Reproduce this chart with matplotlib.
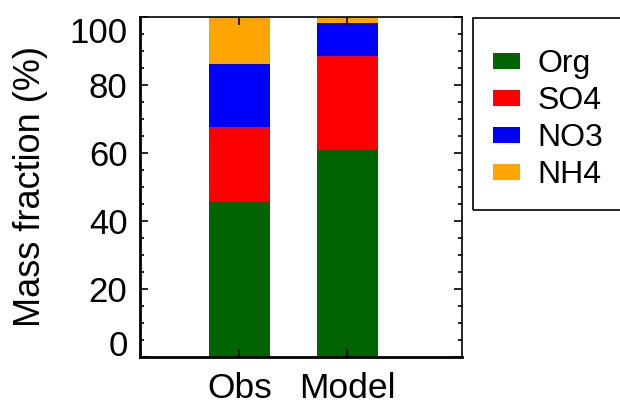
import matplotlib
matplotlib.use("Agg")
import matplotlib.pyplot as plt
from matplotlib.patches import Rectangle
from matplotlib.ticker import MultipleLocator

plt.rcParams["font.family"] = ["Liberation Sans", "DejaVu Sans"]

groups = ["Obs", "Model"]
species = ["Org", "SO4", "NO3", "NH4"]
colors = ["#006400", "#ff0000", "#0000ff", "#ffa500"]
obs_frac = [45.6, 22.0, 18.5, 13.9]
model_frac = [60.8, 27.9, 9.7, 1.6]
yticks = [0, 20, 40, 60, 80, 100]

W, H = 620, 407
fig = plt.figure(figsize=(W / 100, H / 100), dpi=100)
ax = fig.add_axes([140 / W, 1 - 356.5 / H, 322 / W, 339.2 / H])

x = [1, 2]
bottom = [0.0, 0.0]
for i, name in enumerate(species):
    vals = [obs_frac[i], model_frac[i]]
    ax.bar(x, vals, width=0.57, bottom=bottom, color=colors[i],
           edgecolor="none", label=name)
    bottom = [b + v for b, v in zip(bottom, vals)]

ax.set_xlim(0.08, 3.062)
ax.set_ylim(0, 100)
ax.set_xticks(x)
ax.set_xticklabels(groups)
ax.set_yticks(yticks)
ax.yaxis.set_minor_locator(MultipleLocator(5))
ax.tick_params(axis="both", which="both", direction="in", top=True, right=True,
               width=1.2)
ax.tick_params(axis="both", which="major", length=6)
ax.tick_params(axis="y", which="major", labelsize=25, pad=9)
ax.tick_params(axis="x", which="major", labelsize=25.5, pad=11)
ax.tick_params(axis="y", which="minor", length=3)
ax.tick_params(axis="x", which="minor", length=0)
for s in ["left", "bottom"]:
    ax.spines[s].set_linewidth(2)
for s in ["top", "right"]:
    ax.spines[s].set_linewidth(1.2)

# end labels sit inside the axis range, like the original
yt = ax.yaxis.get_major_ticks()
yt[0].label1.set_va("baseline")
yt[-1].label1.set_va("top")

ax.set_ylabel("Mass fraction (%)", fontsize=26)
ax.yaxis.set_label_coords(-0.285, 0.5)

leg = fig.legend(loc="upper left", bbox_to_anchor=(493 / W, 1 - 49 / H),
                 frameon=False, fontsize=23, handlelength=0.85,
                 handleheight=0.4, handletextpad=0.55, labelspacing=0.22,
                 borderpad=0, borderaxespad=0)
fig.add_artist(Rectangle((472.5 / W, 1 - 210 / H), 160 / W, 192 / H,
                         transform=fig.transFigure, fill=False,
                         lw=1.2, edgecolor="black"))

fig.savefig("out.png", dpi=100)
